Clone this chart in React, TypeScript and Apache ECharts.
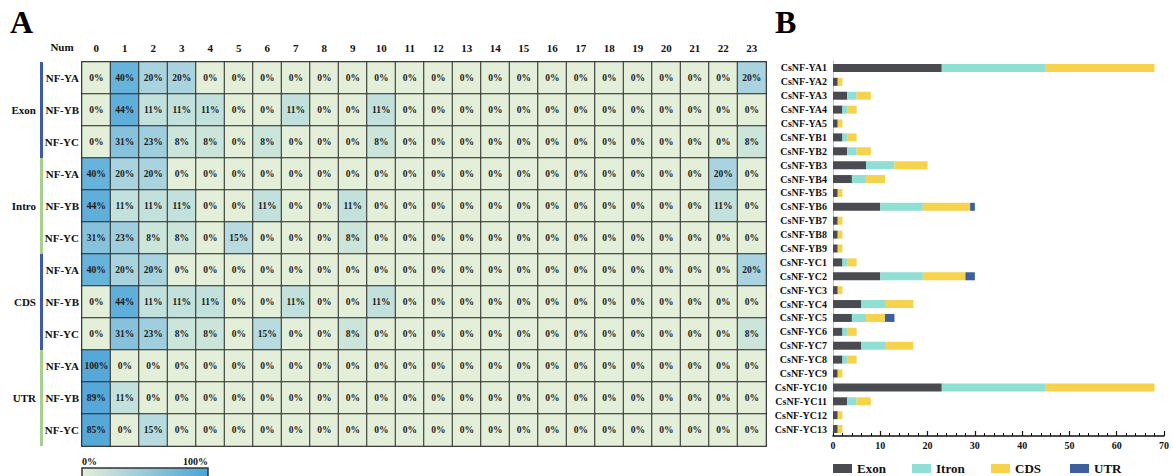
import React, { useEffect, useRef } from 'react';
import * as echarts from 'echarts';

const FONT = "'Liberation Serif', 'Times New Roman', serif";

// Heatmap (panel A)
const colLabels = Array.from({ length: 24 }, (_, i) => String(i));
const groups = ['Exon', 'Intro', 'CDS', 'UTR'];
const subunits = ['NF-YA', 'NF-YB', 'NF-YC'];
const heatRows: number[][] = [
  // Exon
  [0, 40, 20, 20, 0, 0, 0, 0, 0, 0, 0, 0, 0, 0, 0, 0, 0, 0, 0, 0, 0, 0, 0, 20],
  [0, 44, 11, 11, 11, 0, 0, 11, 0, 0, 11, 0, 0, 0, 0, 0, 0, 0, 0, 0, 0, 0, 0, 0],
  [0, 31, 23, 8, 8, 0, 8, 0, 0, 0, 8, 0, 0, 0, 0, 0, 0, 0, 0, 0, 0, 0, 0, 8],
  // Intro
  [40, 20, 20, 0, 0, 0, 0, 0, 0, 0, 0, 0, 0, 0, 0, 0, 0, 0, 0, 0, 0, 0, 20, 0],
  [44, 11, 11, 11, 0, 0, 11, 0, 0, 11, 0, 0, 0, 0, 0, 0, 0, 0, 0, 0, 0, 0, 11, 0],
  [31, 23, 8, 8, 0, 15, 0, 0, 0, 8, 0, 0, 0, 0, 0, 0, 0, 0, 0, 0, 0, 0, 0, 0],
  // CDS
  [40, 20, 20, 0, 0, 0, 0, 0, 0, 0, 0, 0, 0, 0, 0, 0, 0, 0, 0, 0, 0, 0, 0, 20],
  [0, 44, 11, 11, 11, 0, 0, 11, 0, 0, 11, 0, 0, 0, 0, 0, 0, 0, 0, 0, 0, 0, 0, 0],
  [0, 31, 23, 8, 8, 0, 15, 0, 0, 8, 0, 0, 0, 0, 0, 0, 0, 0, 0, 0, 0, 0, 0, 8],
  // UTR
  [100, 0, 0, 0, 0, 0, 0, 0, 0, 0, 0, 0, 0, 0, 0, 0, 0, 0, 0, 0, 0, 0, 0, 0],
  [89, 11, 0, 0, 0, 0, 0, 0, 0, 0, 0, 0, 0, 0, 0, 0, 0, 0, 0, 0, 0, 0, 0, 0],
  [85, 0, 15, 0, 0, 0, 0, 0, 0, 0, 0, 0, 0, 0, 0, 0, 0, 0, 0, 0, 0, 0, 0, 0],
];
const rowIds = groups.flatMap((g) => subunits.map((s) => g + '|' + s));

// Stacked bars (panel B)
const genes = [
  'CsNF-YA1', 'CsNF-YA2', 'CsNF-YA3', 'CsNF-YA4', 'CsNF-YA5',
  'CsNF-YB1', 'CsNF-YB2', 'CsNF-YB3', 'CsNF-YB4', 'CsNF-YB5', 'CsNF-YB6', 'CsNF-YB7', 'CsNF-YB8', 'CsNF-YB9',
  'CsNF-YC1', 'CsNF-YC2', 'CsNF-YC3', 'CsNF-YC4', 'CsNF-YC5', 'CsNF-YC6', 'CsNF-YC7', 'CsNF-YC8', 'CsNF-YC9',
  'CsNF-YC10', 'CsNF-YC11', 'CsNF-YC12', 'CsNF-YC13',
];
const exonLen = [23, 1, 3, 2, 1, 2, 3, 7, 4, 1, 10, 1, 1, 1, 2, 10, 1, 6, 4, 2, 6, 2, 1, 23, 3, 1, 1];
const itronLen = [22, 0, 2, 1, 0, 1, 2, 6, 3, 0, 9, 0, 0, 0, 1, 9, 0, 5, 3, 1, 5, 1, 0, 22, 2, 0, 0];
const cdsLen = [23, 1, 3, 2, 1, 2, 3, 7, 4, 1, 10, 1, 1, 1, 2, 9, 1, 6, 4, 2, 6, 2, 1, 23, 3, 1, 1];
const utrLen = [0, 0, 0, 0, 0, 0, 0, 0, 0, 0, 1, 0, 0, 0, 0, 2, 0, 0, 2, 0, 0, 0, 0, 0, 0, 0, 0];
const barNames = ['Exon', 'Itron', 'CDS', 'UTR'];
const barColors = ['#4a4b50', '#8fdfd4', '#f6d24d', '#3e5f9f'];

const HEAT_COLORS = ['#e3efd9', '#c6e3dc', '#a8d3df', '#8bc4dc', '#66b3db', '#58aad8', '#55a8d8', '#55a8d8', '#55a8d8', '#55a8d8', '#55a8d8'];
const GROUP_BAR_COLORS = ['#3d5ba8', '#a8d08d', '#3d5ba8', '#a8d08d'];

export default function App() {
  const ref = useRef<HTMLDivElement>(null);
  useEffect(() => {
    document.body.style.margin = '0';
    const chart = echarts.init(ref.current!, null, { renderer: 'svg' });
    const heatData = heatRows.flatMap((row, r) => row.map((v, c) => [c, r, v]));
    const boldText = { fontFamily: FONT, fontWeight: 'bold' as const, color: '#111' };
    const barSeries = [exonLen, itronLen, cdsLen, utrLen].map((arr, i) => ({
      name: barNames[i],
      type: 'bar',
      xAxisIndex: 1,
      yAxisIndex: 2,
      stack: 'total',
      barWidth: 8,
      data: arr,
      itemStyle: { color: barColors[i] },
      emphasis: { disabled: true },
    }));
    const legends = barNames.map((n, i) => ({
      data: [n], left: 833 + i * 79, top: 461, padding: 0, icon: 'rect', itemWidth: 19, itemHeight: 9,
      textStyle: { ...boldText, fontSize: 13, lineHeight: 15 }, selectedMode: false,
    }));
    chart.setOption({
      animation: false,
      textStyle: { fontFamily: FONT },
      grid: [
        { left: 82, top: 62, width: 684, height: 384 },
        { left: 833, top: 61, right: 9, height: 375 },
      ],
      xAxis: [
        {
          type: 'category', gridIndex: 0, data: colLabels, position: 'top',
          axisLine: { show: false }, axisTick: { show: false },
          axisLabel: { ...boldText, fontSize: 11, margin: 9 },
        },
        {
          type: 'value', gridIndex: 1, min: 0, max: 70, interval: 10, position: 'bottom',
          axisLine: { show: true, lineStyle: { color: '#111', width: 1.5 } },
          axisTick: { show: true, inside: true, length: 5, lineStyle: { color: '#111', width: 1.2 } },
          minorTick: { show: true, splitNumber: 5, length: 3, lineStyle: { color: '#111', width: 1 } },
          splitLine: { show: false },
          axisLabel: { ...boldText, fontSize: 10, margin: 4 },
        },
      ],
      yAxis: [
        {
          type: 'category', gridIndex: 0, data: rowIds, inverse: true,
          axisLine: { show: false }, axisTick: { show: false },
          axisLabel: { ...boldText, fontSize: 11, margin: 3, formatter: (v: string) => v.split('|')[1] },
        },
        {
          type: 'category', gridIndex: 0, data: groups, inverse: true, position: 'left', offset: 40,
          axisLine: { show: false }, axisTick: { show: false },
          axisLabel: { ...boldText, fontSize: 11, margin: 6 },
        },
        {
          type: 'category', gridIndex: 1, data: genes, inverse: true,
          axisLine: { show: true, lineStyle: { color: '#a9c6e0', width: 1 } },
          axisTick: { show: false },
          axisLabel: { ...boldText, fontSize: 10, margin: 6 },
        },
      ],
      visualMap: { show: false, seriesIndex: 0, min: 0, max: 100, inRange: { color: HEAT_COLORS } },
      legend: legends,
      series: [
        {
          type: 'heatmap', xAxisIndex: 0, yAxisIndex: 0, data: heatData,
          label: { show: true, ...boldText, fontSize: 9.5, color: '#1a1a1a', formatter: (p: any) => p.value[2] + '%' },
          itemStyle: { borderColor: '#2b2b2b', borderWidth: 1 },
          emphasis: { disabled: true },
        },
        ...barSeries,
      ],
    });

    const p00 = chart.convertToPixel({ xAxisIndex: 0, yAxisIndex: 0 }, [0, 0]) as number[];
    const p11 = chart.convertToPixel({ xAxisIndex: 0, yAxisIndex: 0 }, [1, 1]) as number[];
    const cw = p11[0] - p00[0];
    const ch = p11[1] - p00[1];
    const gl = p00[0] - cw / 2;
    const gt = p00[1] - ch / 2;
    const gw = cw * colLabels.length;
    const gh = ch * rowIds.length;
    const graphics: any[] = [];
    groups.forEach((_, g) => {
      graphics.push({
        type: 'rect', shape: { x: gl - 42, y: gt + g * 3 * ch, width: 3, height: 3 * ch },
        style: { fill: GROUP_BAR_COLORS[g] }, silent: true,
      });
    });
    graphics.push({
      type: 'rect', shape: { x: gl, y: gt, width: gw, height: gh },
      style: { fill: 'none', stroke: '#4a4a4a', lineWidth: 2 }, silent: true,
    });
    graphics.push({
      type: 'text', x: gl - 20, y: gt - 15,
      style: { text: 'Num', ...boldText, fill: '#111', fontSize: 11, align: 'center', verticalAlign: 'middle' },
    });
    graphics.push({
      type: 'text', x: 10, y: 6,
      style: { text: 'A', fontFamily: FONT, fontWeight: 'bold', fill: '#000', fontSize: 32, align: 'left', verticalAlign: 'top' },
    });
    graphics.push({
      type: 'text', x: 775, y: 6,
      style: { text: 'B', fontFamily: FONT, fontWeight: 'bold', fill: '#000', fontSize: 32, align: 'left', verticalAlign: 'top' },
    });
    // colour scale legend
    const ly = gt + gh + 22;
    graphics.push({
      type: 'rect', shape: { x: gl, y: ly, width: 126, height: 20 },
      style: {
        fill: new echarts.graphic.LinearGradient(0, 0, 1, 0, [
          { offset: 0, color: '#e3efd9' },
          { offset: 1, color: '#4ba4d7' },
        ]),
        stroke: '#333', lineWidth: 1.5,
      },
      silent: true,
    });
    graphics.push({
      type: 'text', x: gl, y: ly - 7,
      style: { text: '0%', ...boldText, fill: '#111', fontSize: 10, align: 'left', verticalAlign: 'middle' },
    });
    graphics.push({
      type: 'text', x: gl + 126, y: ly - 7,
      style: { text: '100%', ...boldText, fill: '#111', fontSize: 10, align: 'right', verticalAlign: 'middle' },
    });
    chart.setOption({ graphic: graphics });

    return () => chart.dispose();
  }, []);
  return <div ref={ref} style={{ width: 1173, height: 476 }} />;
}
